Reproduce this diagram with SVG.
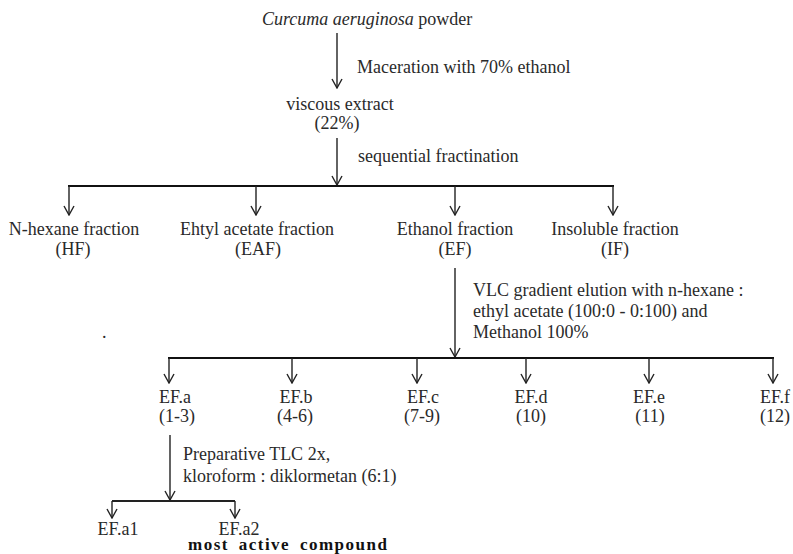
<svg xmlns="http://www.w3.org/2000/svg" width="793" height="554" viewBox="0 0 793 554">
<style>
text{font-family:"Liberation Serif","Times New Roman",serif;font-size:18px;fill:#2a2a2a}
.c{text-anchor:middle}
.b{font-size:17px;font-weight:bold;fill:#111;letter-spacing:1.5px;word-spacing:4px}
.ln{stroke:#222;stroke-width:1.4;fill:none}
.bus{stroke:#111;stroke-width:2.2;fill:none}
.ar{marker-end:url(#arr)}
</style>
<defs>
<marker id="arr" viewBox="0 0 11 12" refX="10" refY="6" markerWidth="11" markerHeight="12" markerUnits="userSpaceOnUse" orient="auto">
<path d="M1,1 L10,6 L1,11" fill="none" stroke="#222" stroke-width="1.4"/>
</marker>
</defs>
<rect width="793" height="554" fill="#fff"/>
<g id="connectors">
<line class="ln ar" x1="337" y1="33" x2="337" y2="88"/>
<line class="ln ar" x1="337" y1="138" x2="337" y2="185"/>
<line class="bus" x1="68" y1="186" x2="614" y2="186"/>
<line class="ln ar" x1="69" y1="186" x2="69" y2="215"/>
<line class="ln ar" x1="256" y1="186" x2="256" y2="215"/>
<line class="ln ar" x1="455" y1="186" x2="455" y2="215"/>
<line class="ln ar" x1="613" y1="186" x2="613" y2="215"/>
<line class="ln ar" x1="455" y1="268" x2="455" y2="357"/>
<line class="bus" x1="168" y1="358" x2="774" y2="358"/>
<line class="ln ar" x1="169" y1="358" x2="169" y2="383"/>
<line class="ln ar" x1="292" y1="358" x2="292" y2="383"/>
<line class="ln ar" x1="417" y1="358" x2="417" y2="383"/>
<line class="ln ar" x1="526" y1="358" x2="526" y2="383"/>
<line class="ln ar" x1="649" y1="358" x2="649" y2="383"/>
<line class="ln ar" x1="773" y1="358" x2="773" y2="383"/>
<line class="ln ar" x1="170" y1="435" x2="170" y2="500"/>
<line class="ln" x1="112" y1="501" x2="235" y2="501" style="stroke-width:1.8"/>
<line class="ln ar" x1="112" y1="501" x2="112" y2="518"/>
<line class="ln ar" x1="235" y1="501" x2="235" y2="518"/>
</g>
<g id="labels">
<text x="357" y="73">Maceration with 70% ethanol</text>
<text x="358" y="162">sequential fractination</text>
<text x="473" y="296">VLC gradient elution with n-hexane :</text>
<text x="473" y="317">ethyl acetate (100:0 - 0:100) and</text>
<text x="473" y="338">Methanol 100%</text>
<text x="183" y="460">Preparative TLC 2x,</text>
<text x="183" y="482">kloroform : diklormetan (6:1)</text>
<text x="102" y="338">.</text>
</g>
<g id="powder"><text x="262" y="25"><tspan font-style="italic">Curcuma aeruginosa</tspan> powder</text></g>
<g id="extract"><text class="c" x="340" y="110">viscous extract</text><text class="c" x="337" y="129">(22%)</text></g>
<g id="HF"><text class="c" x="74" y="235">N-hexane fraction</text><text class="c" x="73" y="255">(HF)</text></g>
<g id="EAF"><text class="c" x="257" y="235">Ehtyl acetate fraction</text><text class="c" x="258" y="255">(EAF)</text></g>
<g id="EF"><text class="c" x="455" y="235">Ethanol fraction</text><text class="c" x="455" y="255">(EF)</text></g>
<g id="IF"><text class="c" x="615" y="235">Insoluble fraction</text><text class="c" x="615" y="255">(IF)</text></g>
<g id="EFa"><text class="c" x="175" y="403">EF.a</text><text class="c" x="177" y="422">(1-3)</text></g>
<g id="EFb"><text class="c" x="296" y="403">EF.b</text><text class="c" x="295" y="422">(4-6)</text></g>
<g id="EFc"><text class="c" x="423" y="403">EF.c</text><text class="c" x="422" y="422">(7-9)</text></g>
<g id="EFd"><text class="c" x="531" y="403">EF.d</text><text class="c" x="531" y="422">(10)</text></g>
<g id="EFe"><text class="c" x="649" y="403">EF.e</text><text class="c" x="650" y="422">(11)</text></g>
<g id="EFf"><text class="c" x="775" y="403">EF.f</text><text class="c" x="775" y="422">(12)</text></g>
<g id="EFa1"><text class="c" x="118" y="535">EF.a1</text></g>
<g id="EFa2"><text class="c" x="239" y="535">EF.a2</text><text class="b" x="188" y="550">most active compound</text></g>
</svg>
